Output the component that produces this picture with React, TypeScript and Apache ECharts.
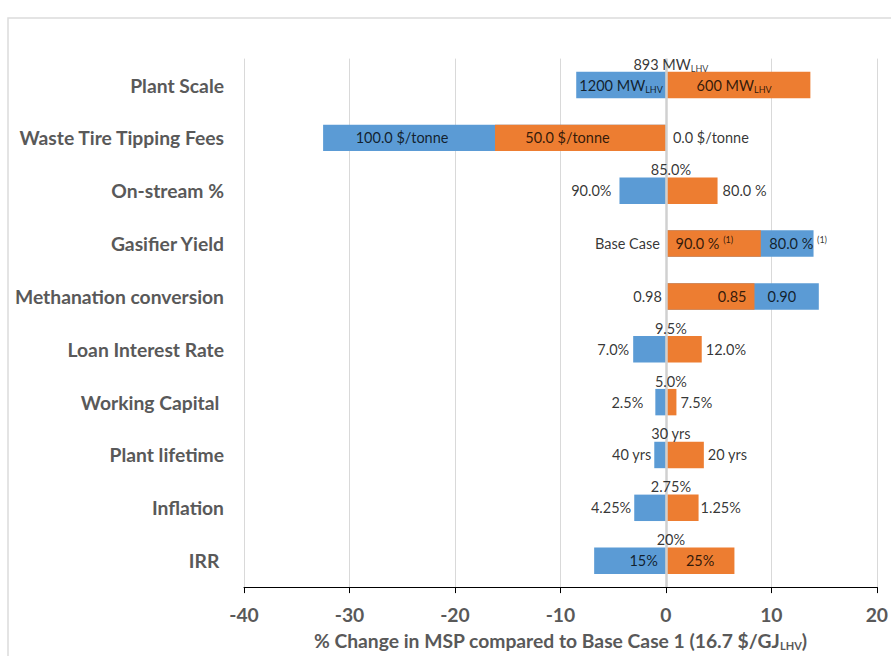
import React, { useEffect, useRef } from "react";
import * as echarts from "echarts";

// Sensitivity cases, top to bottom
const categories = [
  "Plant Scale",
  "Waste Tire Tipping Fees",
  "On-stream %",
  "Gasifier Yield",
  "Methanation conversion",
  "Loan Interest Rate",
  "Working Capital ",
  "Plant lifetime",
  "Inflation",
  "IRR ",
];

// % change in MSP for each case (bar end values)
const blueValues = [-8.5, -32.5, -4.4, 14.0, 14.5, -3.1, -1.0, -1.1, -3.0, -6.8];
const orangeValues = [13.7, -16.2, 4.9, 9.0, 8.4, 3.4, 1.0, 3.6, 3.1, 6.5];

// Parameter values shown on each bar and at the base case
const blueLabels = [
  "1200 MW{sub|LHV}",
  "100.0 $/tonne",
  "90.0%",
  "80.0 % {sup|(1)}",
  "0.90",
  "7.0%",
  "2.5%",
  "40 yrs",
  "4.25%",
  "15%",
];
const orangeLabels = [
  "600 MW{sub|LHV}",
  "50.0 $/tonne",
  "80.0 %",
  "90.0 % {sup|(1)}",
  "0.85",
  "12.0%",
  "7.5%",
  "20 yrs",
  "1.25%",
  "25%",
];
const baseLabels = [
  "893 MW{sub|LHV}",
  "0.0 $/tonne",
  "85.0%",
  "Base Case",
  "0.98",
  "9.5%",
  "5.0%",
  "30 yrs",
  "2.75%",
  "20%",
];

const xMin = -40;
const xMax = 20;
const xStep = 10;

const BLUE = "#5b9bd5";
const ORANGE = "#ed7d31";
const FONT = "Lato";

type Place = { m: "mid" | "out" | "inInner" | "inOuter"; d?: number; dx?: number };

const bluePlace: Place[] = [
  { m: "mid" },
  { m: "mid", dx: -7 },
  { m: "out", d: 8 },
  { m: "mid", dx: 11 },
  { m: "inInner", d: 13 },
  { m: "out", d: 4 },
  { m: "out", d: 12 },
  { m: "out", d: 3 },
  { m: "out", d: 3 },
  { m: "inInner", d: 8 },
];
const orangePlace: Place[] = [
  { m: "mid", dx: -4 },
  { m: "mid", dx: -13 },
  { m: "out", d: 5 },
  { m: "mid", dx: -9 },
  { m: "inOuter", d: 8 },
  { m: "out", d: 4 },
  { m: "out", d: 4 },
  { m: "out", d: 4 },
  { m: "out", d: 2 },
  { m: "mid" },
];
const basePlace: { m: "top" | "left" | "right"; d?: number }[] = [
  { m: "top" },
  { m: "right", d: 7 },
  { m: "top" },
  { m: "left", d: 6 },
  { m: "left", d: 4 },
  { m: "top" },
  { m: "top" },
  { m: "top" },
  { m: "top" },
  { m: "top" },
];

const rich = {
  sub: { fontSize: 9, fontFamily: FONT, color: "#000", verticalAlign: "bottom", lineHeight: 18 },
  sup: { fontSize: 9, fontFamily: FONT, color: "#000", verticalAlign: "top", lineHeight: 18 },
};

const labelBase = {
  show: true,
  fontFamily: FONT,
  fontSize: 14.5,
  color: "#000",
  lineHeight: 18,
  rich,
};

// Place a text label against a bar segment running from a to b
function segmentLabel(text: string, a: number, b: number, row: number, p: Place) {
  const dir = b >= a ? 1 : -1;
  let x = (a + b) / 2;
  let position: string = "inside";
  if (p.m === "out") {
    x = b;
    position = dir > 0 ? "right" : "left";
  } else if (p.m === "inInner") {
    x = a;
    position = dir > 0 ? "right" : "left";
  } else if (p.m === "inOuter") {
    x = b;
    position = dir > 0 ? "left" : "right";
  }
  return {
    value: [x, row],
    label: {
      ...labelBase,
      formatter: text,
      position,
      distance: p.d ?? 5,
      offset: [p.dx ?? 0, 0],
    },
  };
}

export default function App() {
  const ref = useRef<HTMLDivElement>(null);

  useEffect(() => {
    if (!ref.current) return;
    const chart = echarts.init(ref.current, null, { renderer: "svg" });

    const labelPoints: any[] = [];
    categories.forEach((_, i) => {
      const o = orangeValues[i];
      const b = blueValues[i];
      const sameSign = o * b > 0;
      labelPoints.push(segmentLabel(orangeLabels[i], 0, o, i, orangePlace[i]));
      labelPoints.push(segmentLabel(blueLabels[i], sameSign ? o : 0, b, i, bluePlace[i]));
      const bp = basePlace[i];
      labelPoints.push({
        value: [0, i],
        label: {
          ...labelBase,
          formatter: baseLabels[i],
          position: bp.m,
          distance: bp.m === "top" ? 12 : bp.d,
          offset: bp.m === "top" ? [5, 0] : [0, 0],
        },
      });
    });

    const axisText = { fontFamily: FONT, fontSize: 19.3, fontWeight: "bold" as const, color: "#595959" };

    chart.setOption({
      animation: false,
      backgroundColor: "#fff",
      grid: { left: 244, right: 8, top: 58.6, bottom: 59, containLabel: false },
      xAxis: {
        type: "value",
        min: xMin,
        max: xMax,
        interval: xStep,
        axisLine: { show: true, onZero: false, lineStyle: { color: "#000", width: 1 } },
        axisTick: { show: true, length: 6, lineStyle: { color: "#000" } },
        axisLabel: { ...axisText, margin: 18 },
        splitLine: { show: true, lineStyle: { color: "#d9d9d9", width: 1 } },
        name: "% Change in MSP compared to Base Case 1 (16.7 $/GJ{sub|LHV})",
        nameLocation: "middle",
        nameGap: 40,
        nameTextStyle: {
          ...axisText,
          rich: {
            sub: { ...axisText, fontSize: 11, verticalAlign: "bottom", lineHeight: 22 },
          },
          lineHeight: 22,
        },
      },
      yAxis: {
        type: "category",
        inverse: true,
        data: categories,
        axisLine: { show: false, onZero: false },
        axisTick: { show: false },
        splitLine: { show: false },
        axisLabel: { ...axisText, margin: 20 },
      },
      series: [
        {
          type: "bar",
          name: "blue",
          data: blueValues,
          barWidth: "50%",
          barGap: "-100%",
          itemStyle: { color: BLUE },
          markLine: {
            silent: true,
            symbol: ["none", "none"],
            label: { show: false },
            lineStyle: { color: "#d0d0d0", width: 2.5, type: "solid" },
            data: [{ xAxis: 0 }],
          },
        },
        {
          type: "bar",
          name: "orange",
          data: orangeValues,
          barWidth: "50%",
          barGap: "-100%",
          itemStyle: { color: ORANGE },
        },
        {
          type: "scatter",
          name: "labels",
          symbolSize: 0,
          silent: true,
          z: 5,
          data: labelPoints,
        },
      ],
      graphic: [
        {
          type: "rect",
          shape: { x: 8, y: 18, width: 1000, height: 1000 },
          style: { fill: "none", stroke: "#dcdcdc", lineWidth: 1.5 },
          silent: true,
        },
      ],
    });

    return () => chart.dispose();
  }, []);

  return (
    <div
      ref={ref}
      style={{ position: "fixed", left: 0, top: 0, width: 891, height: 656 }}
    />
  );
}
